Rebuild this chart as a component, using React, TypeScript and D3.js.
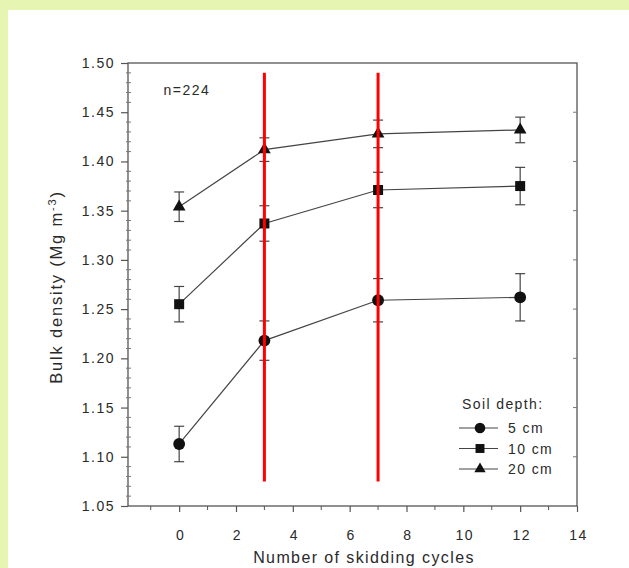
import { useEffect, useRef } from "react";
import * as d3 from "d3";

const cycles = [0, 3, 7, 12];
const series = ["5 cm", "10 cm", "20 cm"];
const density5 = [1.113, 1.218, 1.259, 1.262];
const err5 = [0.018, 0.02, 0.022, 0.024];
const density10 = [1.255, 1.337, 1.371, 1.375];
const err10 = [0.018, 0.018, 0.018, 0.019];
const density20 = [1.354, 1.412, 1.428, 1.432];
const err20 = [0.015, 0.012, 0.014, 0.013];
const xTicks = [0, 2, 4, 6, 8, 10, 12, 14];
const yTicks = [1.05, 1.1, 1.15, 1.2, 1.25, 1.3, 1.35, 1.4, 1.45, 1.5];
const redLines = [3, 7];

const App = () => {
  const ref = useRef(null);

  useEffect(() => {
    const W = 629,
      H = 568;
    const left = 128,
      right = 577,
      top = 63,
      bottom = 506;

    const svg = d3.select(ref.current);
    svg.selectAll("*").remove();

    svg.append("rect").attr("width", W).attr("height", H).attr("fill", "#e6f6b2");
    svg.append("rect").attr("x", 8).attr("y", 10).attr("width", W - 8).attr("height", H - 10).attr("fill", "white");

    const x = d3.scaleLinear().domain([-1.8, 14]).range([left, right]);
    const y = d3.scaleLinear().domain([1.05, 1.5]).range([bottom, top]);

    const ink = "#2a2a2a";
    const font = "Arial, 'Liberation Sans', sans-serif";

    // frame
    svg
      .append("rect")
      .attr("x", left)
      .attr("y", top)
      .attr("width", right - left)
      .attr("height", bottom - top)
      .attr("fill", "none")
      .attr("stroke", "#555")
      .attr("stroke-width", 1.3);

    // x axis
    const xAxis = svg.append("g").attr("transform", `translate(0,${bottom})`);
    xAxis
      .call(d3.axisBottom(x).tickValues(xTicks).tickSize(6).tickFormat(d3.format("d")))
      .call((g) => g.select(".domain").remove());
    xAxis
      .selectAll("text")
      .attr("font-size", 14)
      .attr("font-family", font)
      .attr("letter-spacing", 1.5)
      .attr("fill", ink)
      .attr("y", 34)
      .attr("dy", 0)
      .attr("dx", 1);
    xAxis.selectAll("line").attr("stroke", "#555").attr("stroke-width", 1.2);
    const minorX = d3.range(-1, 14, 2);
    svg
      .append("g")
      .selectAll("line")
      .data(minorX)
      .join("line")
      .attr("x1", (d) => x(d))
      .attr("x2", (d) => x(d))
      .attr("y1", bottom)
      .attr("y2", bottom + 4)
      .attr("stroke", "#555");

    // y axis
    const yAxis = svg.append("g").attr("transform", `translate(${left},0)`);
    yAxis
      .call(d3.axisLeft(y).tickValues(yTicks).tickSize(7).tickFormat(d3.format(".2f")))
      .call((g) => g.select(".domain").remove());
    yAxis
      .selectAll("text")
      .attr("font-size", 14)
      .attr("font-family", font)
      .attr("letter-spacing", 1.5)
      .attr("fill", ink)
      .attr("x", -13);
    yAxis.selectAll("line").attr("stroke", "#555").attr("stroke-width", 1.2);
    const minorY = d3.range(1.06, 1.5, 0.01).filter((v) => Math.round(v * 100) % 5 !== 0);
    svg
      .append("g")
      .selectAll("line")
      .data(minorY)
      .join("line")
      .attr("x1", left - 2)
      .attr("x2", left + 3)
      .attr("y1", (d) => y(d))
      .attr("y2", (d) => y(d))
      .attr("stroke", "#777");
    svg
      .append("g")
      .selectAll("line")
      .data(d3.range(1.1, 1.5, 0.05))
      .join("line")
      .attr("x1", right - 4)
      .attr("x2", right)
      .attr("y1", (d) => y(d))
      .attr("y2", (d) => y(d))
      .attr("stroke", "#777");

    // axis titles
    svg
      .append("text")
      .attr("x", 364)
      .attr("y", 563)
      .attr("text-anchor", "middle")
      .attr("font-size", 16)
      .attr("letter-spacing", 1.4)
      .attr("font-family", font)
      .attr("fill", ink)
      .text("Number of skidding cycles");

    const yTitle = svg
      .append("text")
      .attr("transform", `translate(62,287) rotate(-90)`)
      .attr("text-anchor", "middle")
      .attr("font-size", 16.5)
      .attr("letter-spacing", 1.8)
      .attr("font-family", font)
      .attr("fill", ink);
    yTitle.append("tspan").text("Bulk density (Mg m");
    yTitle.append("tspan").attr("font-size", 11).attr("dy", -6).text("-3");
    yTitle.append("tspan").attr("dy", 6).text(")");

    svg
      .append("text")
      .attr("x", x(-0.55))
      .attr("y", y(1.468))
      .attr("font-size", 14)
      .attr("letter-spacing", 1.5)
      .attr("font-family", font)
      .attr("fill", ink)
      .text("n=224");

    // data
    const data = [
      { name: series[0], values: density5, errs: err5, shape: d3.symbolCircle, size: 110 },
      { name: series[1], values: density10, errs: err10, shape: d3.symbolSquare, size: 100 },
      { name: series[2], values: density20, errs: err20, shape: d3.symbolTriangle, size: 70 },
    ];

    const line = d3
      .line()
      .x((d) => x(d[0]))
      .y((d) => y(d[1]));

    data.forEach((s) => {
      const pts = cycles.map((c, i) => [c, s.values[i], s.errs[i]]);
      svg
        .append("path")
        .datum(pts)
        .attr("fill", "none")
        .attr("stroke", "#444")
        .attr("stroke-width", 1.2)
        .attr("d", line);

      const eb = svg.append("g").attr("stroke", "#444").attr("stroke-width", 1.2);
      eb.selectAll(".v")
        .data(pts)
        .join("line")
        .attr("x1", (d) => x(d[0]))
        .attr("x2", (d) => x(d[0]))
        .attr("y1", (d) => y(d[1] - d[2]))
        .attr("y2", (d) => y(d[1] + d[2]));
      eb.selectAll(".t")
        .data(pts.flatMap((d) => [[d[0], d[1] + d[2]], [d[0], d[1] - d[2]]]))
        .join("line")
        .attr("x1", (d) => x(d[0]) - 5)
        .attr("x2", (d) => x(d[0]) + 5)
        .attr("y1", (d) => y(d[1]))
        .attr("y2", (d) => y(d[1]));

      svg
        .append("g")
        .selectAll("path")
        .data(pts)
        .join("path")
        .attr("transform", (d) => `translate(${x(d[0])},${y(d[1])})`)
        .attr("d", d3.symbol().type(s.shape).size(s.size))
        .attr("fill", "#111");
    });

    // red lines
    svg
      .append("g")
      .selectAll("line")
      .data(redLines)
      .join("line")
      .attr("x1", (d) => x(d))
      .attr("x2", (d) => x(d))
      .attr("y1", y(1.49))
      .attr("y2", y(1.075))
      .attr("stroke", "#ff0000")
      .attr("stroke-width", 3);

    // legend
    const lg = svg.append("g").attr("font-family", font).attr("fill", ink).attr("letter-spacing", 1.4);
    lg.append("text").attr("x", 462).attr("y", 409).attr("font-size", 14).text("Soil depth:");
    data.forEach((s, i) => {
      const ly = 428 + i * 20.5;
      lg.append("line")
        .attr("x1", 459)
        .attr("x2", 498)
        .attr("y1", ly)
        .attr("y2", ly)
        .attr("stroke", "#444")
        .attr("stroke-width", 1.2);
      lg.append("path")
        .attr("transform", `translate(480,${ly})`)
        .attr("d", d3.symbol().type(s.shape).size(s.size * 0.8))
        .attr("fill", "#111");
      lg.append("text")
        .attr("x", 508)
        .attr("y", ly + 5)
        .attr("font-size", 14)
        .text(s.name);
    });
  }, []);

  return (
    <div style={{ position: "fixed", left: 0, top: 0 }}>
      <svg ref={ref} width={629} height={568} style={{ display: "block" }} />
    </div>
  );
};

export default App;
